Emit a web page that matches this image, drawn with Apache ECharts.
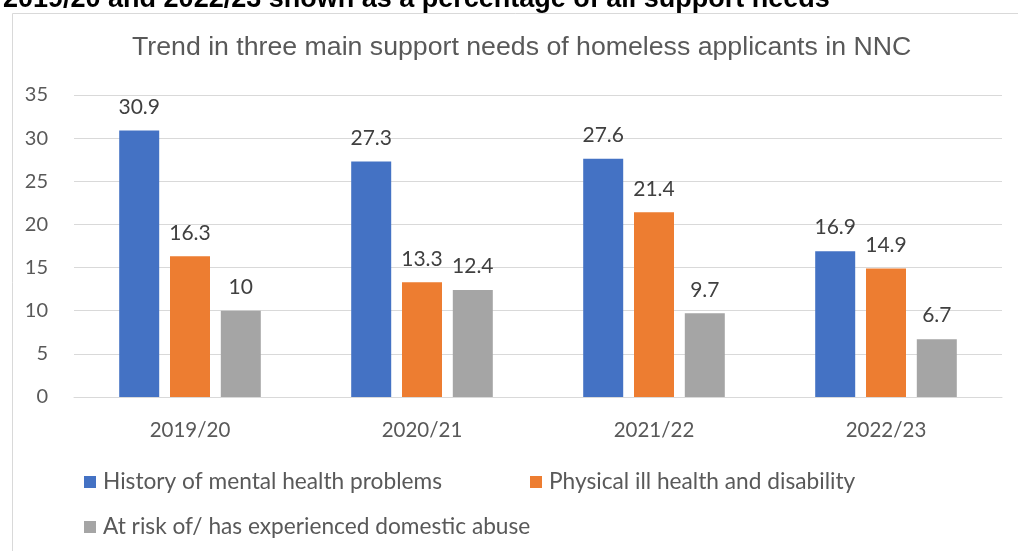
<!DOCTYPE html>
<html>
<head>
<meta charset="utf-8">
<script src="https://cdn.jsdelivr.net/npm/echarts@6/dist/echarts.min.js"></script>
<style>
  html, body { margin: 0; padding: 0; background: #ffffff; }
  #chart { width: 1018px; height: 551px; }
</style>
</head>
<body>
<div id="chart"></div>
<script>
// Financial years shown on the category axis
const years = ['2019/20', '2020/21', '2021/22', '2022/23'];

// Share of all support needs (%) for each of the three main needs
const mentalHealth = [30.9, 27.3, 27.6, 16.9];
const physicalHealth = [16.3, 13.3, 21.4, 14.9];
const domesticAbuse = [10, 12.4, 9.7, 6.7];

const seriesNames = [
  'History of mental health problems',
  'Physical ill health and disability',
  'At risk of/ has experienced domestic abuse'
];

const heading = '2019/20 and 2022/23 shown as a percentage of all support needs';
const chartTitle = 'Trend in three main support needs of homeless applicants in NNC';

const colours = ['#4472C4', '#ED7D31', '#A5A5A5'];
const bodyFont = 'Lato';
const textGrey = '#595959';

const chart = echarts.init(document.getElementById('chart'), null, { renderer: 'canvas' });

function barSeries(name, values, colour) {
  return {
    name: name,
    type: 'bar',
    data: values,
    barWidth: 40,
    barGap: '27%',
    itemStyle: { color: colour },
    label: {
      show: true,
      position: 'top',
      distance: 13,
      color: '#404040',
      fontFamily: bodyFont,
      fontSize: 21
    }
  };
}

function legendFor(name, left, top) {
  return {
    data: [name],
    left: left,
    top: top,
    icon: 'rect',
    itemWidth: 12,
    itemHeight: 12,
    itemGap: 0,
    padding: 0,
    selectedMode: false,
    textStyle: {
      color: textGrey,
      fontFamily: bodyFont,
      fontSize: 22.7,
      lineHeight: 24,
      padding: [0, 0, 0, 2]
    }
  };
}

chart.setOption({
  animation: false,
  backgroundColor: '#ffffff',
  color: colours,
  graphic: [
    {
      type: 'rect',
      left: 10,
      top: 11,
      shape: { width: 1100, height: 700 },
      style: { fill: 'none', stroke: '#d9d9d9', lineWidth: 1 },
      silent: true,
      z: -1
    },
    {
      type: 'text',
      left: 3,
      top: -14,
      style: {
        text: heading,
        fill: '#000000',
        font: 'bold 27px "Liberation Sans", Arial, sans-serif'
      }
    }
  ],
  title: {
    text: chartTitle,
    left: 132,
    top: 34,
    padding: 0,
    textStyle: {
      color: textGrey,
      fontFamily: '"Liberation Sans", Arial, sans-serif',
      fontWeight: 'normal',
      fontSize: 26.7
    }
  },
  legend: [
    legendFor(seriesNames[0], 84, 470),
    legendFor(seriesNames[1], 530, 470),
    legendFor(seriesNames[2], 84, 515)
  ],
  grid: { left: 74, right: 16, top: 95, bottom: 154 },
  xAxis: {
    type: 'category',
    data: years,
    axisLine: { lineStyle: { color: '#d9d9d9' } },
    axisTick: { show: false },
    axisLabel: {
      color: textGrey,
      fontFamily: bodyFont,
      fontSize: 20.5,
      margin: 23
    }
  },
  yAxis: {
    type: 'value',
    min: 0,
    max: 35,
    interval: 5,
    axisLine: { show: false },
    axisTick: { show: false },
    splitLine: { lineStyle: { color: '#d9d9d9', width: 1 } },
    axisLabel: {
      color: textGrey,
      fontFamily: bodyFont,
      fontSize: 20,
      margin: 26
    }
  },
  series: [
    barSeries(seriesNames[0], mentalHealth, colours[0]),
    barSeries(seriesNames[1], physicalHealth, colours[1]),
    barSeries(seriesNames[2], domesticAbuse, colours[2])
  ]
});
</script>
</body>
</html>
